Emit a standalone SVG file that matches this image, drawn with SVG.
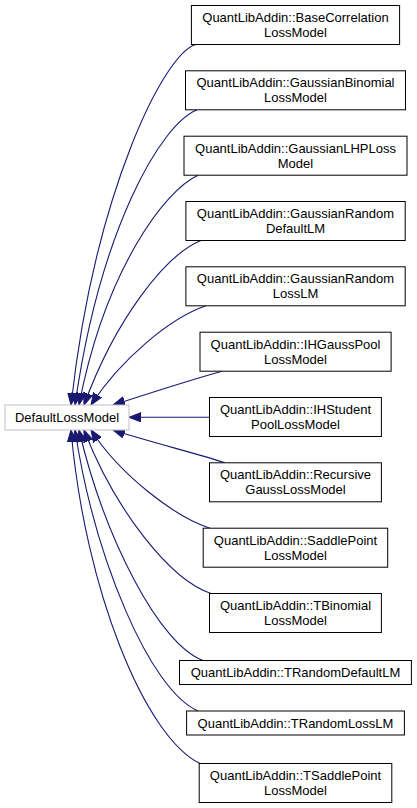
<svg xmlns="http://www.w3.org/2000/svg" width="417" height="808" viewBox="0 0 417 808">
<style>
.n rect{fill:#fff;stroke:#000;stroke-width:1}
.base rect{fill:#fff;stroke:#bfbfbf;stroke-width:1}
text{font-family:"Liberation Sans",Arial,Helvetica,sans-serif;font-size:13px;fill:#000;text-anchor:middle}
.e path{fill:none;stroke:#191970;stroke-width:1.1;marker-end:url(#ah)}
</style>
<defs>
<marker id="ah" markerUnits="userSpaceOnUse" markerWidth="13" markerHeight="11" refX="12" refY="5" orient="auto">
<path d="M0,0.3 L12,5 L0,9.7 z" fill="#191970" stroke="#191970" stroke-width="1"/>
</marker>
</defs>
<rect width="417" height="808" fill="#fff"/>
<g id="edges" class="e">
<path d="M196,44.5 C165,52 95,190 71,405"/>
<path d="M197,109.8 C160,125 100,230 75,405"/>
<path d="M198,175.2 C165,190 105,270 79,405"/>
<path d="M201,240.5 C165,255 115,320 84,405"/>
<path d="M206,305.8 C170,318 120,360 91,405"/>
<path d="M222,371.2 C190,380 150,393 113,405"/>
<path d="M209.5,417.3 L129,417.3"/>
<path d="M225,462.8 C195,453 150,442 113,430"/>
<path d="M210,528.2 C175,517 120,475 91,430"/>
<path d="M211,593.5 C170,580 115,510 84,430"/>
<path d="M203,660.5 C160,645 105,540 79,430"/>
<path d="M198,711 C150,690 95,560 75,430"/>
<path d="M200,763.5 C145,737 85,590 71,430"/>
</g>
<g id="DefaultLossModel" class="base"><rect x="5" y="405" width="124" height="25"/><text x="67" y="422">DefaultLossModel</text></g>
<g id="BaseCorrelationLossModel" class="n"><rect x="191.4" y="5.5" width="208.2" height="39"/><text x="295.5" y="22">QuantLibAddin::BaseCorrelation</text><text x="295.5" y="37">LossModel</text></g>
<g id="GaussianBinomialLossModel" class="n"><rect x="185.5" y="70.8" width="220" height="39"/><text x="295.5" y="87.3">QuantLibAddin::GaussianBinomial</text><text x="295.5" y="102.3">LossModel</text></g>
<g id="GaussianLHPLossModel" class="n"><rect x="184" y="136.2" width="223" height="39"/><text x="295.5" y="152.7">QuantLibAddin::GaussianLHPLoss</text><text x="295.5" y="167.7">Model</text></g>
<g id="GaussianRandomDefaultLM" class="n"><rect x="185.9" y="201.5" width="219.3" height="39"/><text x="295.5" y="218">QuantLibAddin::GaussianRandom</text><text x="295.5" y="233">DefaultLM</text></g>
<g id="GaussianRandomLossLM" class="n"><rect x="185.9" y="266.8" width="219.3" height="39"/><text x="295.5" y="283.3">QuantLibAddin::GaussianRandom</text><text x="295.5" y="298.3">LossLM</text></g>
<g id="IHGaussPoolLossModel" class="n"><rect x="200" y="332.2" width="191.1" height="39"/><text x="295.5" y="348.7">QuantLibAddin::IHGaussPool</text><text x="295.5" y="363.7">LossModel</text></g>
<g id="IHStudentPoolLossModel" class="n"><rect x="209.5" y="397.5" width="171.9" height="39"/><text x="295.5" y="414">QuantLibAddin::IHStudent</text><text x="295.5" y="429">PoolLossModel</text></g>
<g id="RecursiveGaussLossModel" class="n"><rect x="209.5" y="462.8" width="171.9" height="39"/><text x="295.5" y="479.3">QuantLibAddin::Recursive</text><text x="295.5" y="494.3">GaussLossModel</text></g>
<g id="SaddlePointLossModel" class="n"><rect x="203.2" y="528.2" width="184.5" height="39"/><text x="295.5" y="544.7">QuantLibAddin::SaddlePoint</text><text x="295.5" y="559.7">LossModel</text></g>
<g id="TBinomialLossModel" class="n"><rect x="209.5" y="593.5" width="171.9" height="39"/><text x="295.5" y="610">QuantLibAddin::TBinomial</text><text x="295.5" y="625">LossModel</text></g>
<g id="TRandomDefaultLM" class="n"><rect x="179.5" y="660.5" width="231.9" height="24"/><text x="295.5" y="677">QuantLibAddin::TRandomDefaultLM</text></g>
<g id="TRandomLossLM" class="n"><rect x="186.6" y="711" width="217.8" height="24"/><text x="295.5" y="727.5">QuantLibAddin::TRandomLossLM</text></g>
<g id="TSaddlePointLossModel" class="n"><rect x="199.2" y="763.5" width="192.6" height="39"/><text x="295.5" y="780">QuantLibAddin::TSaddlePoint</text><text x="295.5" y="795">LossModel</text></g>
</svg>
